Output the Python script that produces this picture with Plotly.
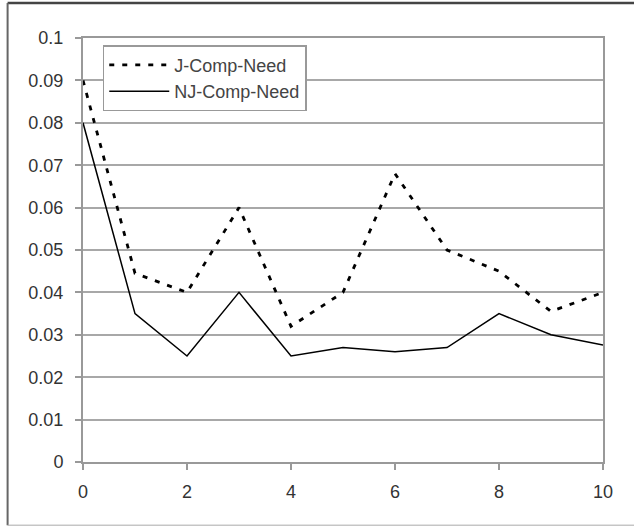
import plotly.graph_objects as go

x_vals = [0, 1, 2, 3, 4, 5, 6, 7, 8, 9, 10]
j_comp_need = [0.09, 0.0445, 0.040, 0.060, 0.032, 0.040, 0.068, 0.050, 0.045, 0.0355, 0.040]
nj_comp_need = [0.080, 0.035, 0.025, 0.040, 0.025, 0.027, 0.026, 0.027, 0.035, 0.030, 0.0276]
x_ticks = [0, 2, 4, 6, 8, 10]
y_ticks = [0, 0.01, 0.02, 0.03, 0.04, 0.05, 0.06, 0.07, 0.08, 0.09, 0.1]
y_tick_text = ["0", "0.01", "0.02", "0.03", "0.04", "0.05", "0.06", "0.07", "0.08", "0.09", "0.1"]

fig = go.Figure()
fig.add_trace(go.Scatter(x=x_vals, y=j_comp_need, mode="lines", name="J-Comp-Need",
                         line=dict(color="black", width=2.8, dash="5px,8px")))
fig.add_trace(go.Scatter(x=x_vals, y=nj_comp_need, mode="lines", name="NJ-Comp-Need",
                         line=dict(color="black", width=1.5)))

fig.update_layout(
    width=634, height=527,
    margin=dict(l=83, r=31, t=38, b=65),
    paper_bgcolor="white", plot_bgcolor="white",
    font=dict(family="Liberation Sans, Arial, sans-serif", size=18, color="#333333"),
    showlegend=True,
    legend=dict(x=0.038, y=0.983, xanchor="left", yanchor="top",
                bordercolor="#999999", borderwidth=1.5, bgcolor="white",
                itemwidth=60, font=dict(size=18, color="#444444"),
                tracegroupgap=0),
    xaxis=dict(range=[0, 10], tickvals=x_ticks, showgrid=False, zeroline=False,
               showline=True, linecolor="#999999", linewidth=2, mirror=True,
               ticks="outside", ticklen=6, tickcolor="#999999", tickwidth=1.5,
               ticklabelstandoff=6,
               tickfont=dict(size=18, color="#333333")),
    yaxis=dict(range=[0, 0.1], tickvals=y_ticks, ticktext=y_tick_text,
               showgrid=True, gridcolor="#a8a8a8", gridwidth=1.5, zeroline=False,
               showline=True, linecolor="#999999", linewidth=2, mirror=True,
               ticks="outside", ticklen=6, tickcolor="#999999", tickwidth=1.5,
               ticklabelstandoff=8,
               tickfont=dict(size=18, color="#333333")),
)

# outer frame
fig.add_shape(type="line", xref="paper", yref="paper", x0=-0.145, x1=1.1, y0=1.0825, y1=1.0825,
              line=dict(color="#444444", width=2.5))
fig.add_shape(type="line", xref="paper", yref="paper", x0=-0.145, x1=-0.145, y0=1.0825, y1=-0.149,
              line=dict(color="#666666", width=2))
fig.add_shape(type="line", xref="paper", yref="paper", x0=-0.145, x1=1.1, y0=-0.149, y1=-0.149,
              line=dict(color="#aaaaaa", width=1))

fig.write_html("out.html")
